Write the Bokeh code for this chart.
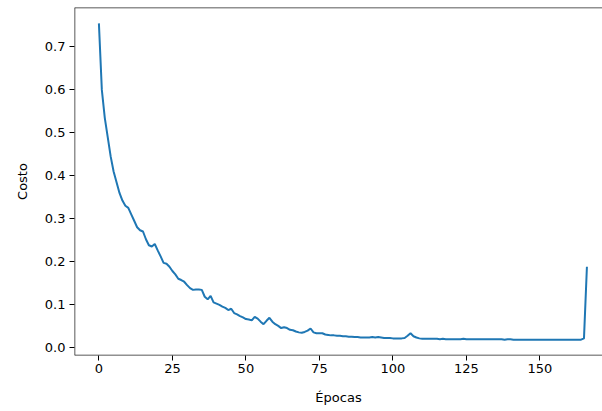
from bokeh.plotting import figure
from bokeh.models import Range1d, FixedTicker, PrintfTickFormatter, ColumnDataSource, Span
from bokeh.embed import file_html
from bokeh.resources import INLINE

epochs = list(range(167))
costo = [
    0.755, 0.600, 0.535, 0.490, 0.445, 0.410, 0.385, 0.360, 0.342, 0.330,
    0.325, 0.310, 0.295, 0.280, 0.273, 0.270, 0.252, 0.238, 0.235, 0.241,
    0.226, 0.212, 0.197, 0.195, 0.188, 0.178, 0.170, 0.160, 0.157, 0.153,
    0.145, 0.138, 0.134, 0.135, 0.135, 0.134, 0.118, 0.112, 0.120, 0.105,
    0.102, 0.099, 0.095, 0.092, 0.087, 0.090, 0.080, 0.077, 0.073, 0.070,
    0.066, 0.065, 0.063, 0.071, 0.067, 0.060, 0.054, 0.062, 0.069, 0.060,
    0.054, 0.050, 0.045, 0.047, 0.045, 0.041, 0.040, 0.037, 0.035, 0.034,
    0.036, 0.039, 0.044, 0.035, 0.033, 0.033, 0.033, 0.030, 0.029, 0.028,
    0.028, 0.027, 0.027, 0.026, 0.026, 0.025, 0.025, 0.024, 0.024, 0.023,
    0.023, 0.023, 0.023, 0.024, 0.023, 0.024, 0.023, 0.022, 0.022, 0.022,
    0.021, 0.021, 0.021, 0.021, 0.022, 0.027, 0.033, 0.026, 0.023, 0.021,
    0.020, 0.020, 0.020, 0.020, 0.020, 0.020, 0.019, 0.020, 0.019, 0.019,
    0.019, 0.019, 0.019, 0.019, 0.020, 0.019, 0.019, 0.019, 0.019, 0.019,
    0.019, 0.019, 0.019, 0.019, 0.019, 0.019, 0.019, 0.019, 0.018, 0.019,
    0.019, 0.018, 0.018, 0.018, 0.018, 0.018, 0.018, 0.018, 0.018, 0.018,
    0.018, 0.018, 0.018, 0.018, 0.018, 0.018, 0.018, 0.018, 0.018, 0.018,
    0.018, 0.018, 0.018, 0.018, 0.018, 0.021, 0.188,
]
x_ticks = [0, 25, 50, 75, 100, 125, 150]
y_ticks = [0.0, 0.1, 0.2, 0.3, 0.4, 0.5, 0.6, 0.7]

x0, x1 = -8.3, 171.3
y0, y1 = -0.0189, 0.792
src = ColumnDataSource(dict(x=epochs, y=costo))

p = figure(width=602, height=411, output_backend="svg", toolbar_location=None,
           x_range=Range1d(x0, x1), y_range=Range1d(y0, y1),
           min_border_left=74, min_border_right=0, min_border_top=7, min_border_bottom=56)

p.line("x", "y", source=src, line_color="#1f77b4", line_width=2)

# frame spines (left, bottom, top); the right one is cropped off in the reference
p.add_layout(Span(location=x0, dimension="height", line_color="#222222", line_width=1.5))
p.add_layout(Span(location=y0, dimension="width", line_color="#222222", line_width=1.5))
p.add_layout(Span(location=y1, dimension="width", line_color="#222222", line_width=1.5))

p.grid.visible = False
p.outline_line_color = None
p.background_fill_color = "white"
p.border_fill_color = "white"

for ax in (p.xaxis[0], p.yaxis[0]):
    ax.axis_line_color = None
    ax.major_tick_in = 0
    ax.major_tick_out = 5
    ax.major_tick_line_color = "#000000"
    ax.minor_tick_line_color = None
    ax.major_label_text_font = "DejaVu Sans"
    ax.major_label_text_font_size = "13px"
    ax.major_label_text_color = "#000000"
    ax.axis_label_text_font = "DejaVu Sans"
    ax.axis_label_text_font_size = "13px"
    ax.axis_label_text_font_style = "normal"
    ax.axis_label_text_color = "#000000"

p.xaxis[0].ticker = FixedTicker(ticks=x_ticks)
p.yaxis[0].ticker = FixedTicker(ticks=y_ticks)
p.yaxis[0].formatter = PrintfTickFormatter(format="%.1f")
p.xaxis[0].axis_label = "Épocas"
p.yaxis[0].axis_label = "Costo"
p.xaxis[0].major_label_standoff = 3
p.yaxis[0].major_label_standoff = 4
p.xaxis[0].axis_label_standoff = 14
p.yaxis[0].axis_label_standoff = 12

open("out.html", "w").write(file_html(p, INLINE))
